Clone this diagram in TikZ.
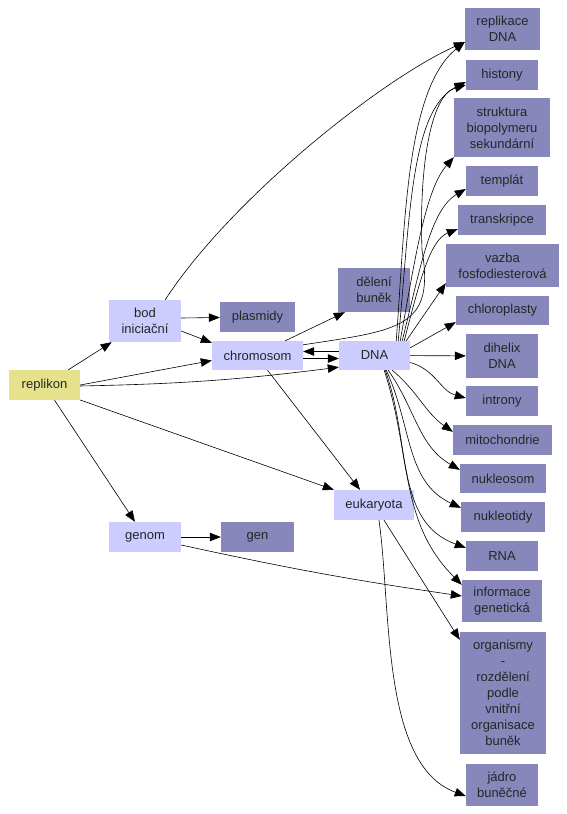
\documentclass[tikz,border=0pt]{standalone}
\usepackage{fontspec}
\setmainfont{Liberation Sans}
\usetikzlibrary{arrows.meta}
\definecolor{litecol}{RGB}{204,204,255}
\definecolor{darkcol}{RGB}{135,135,187}
\definecolor{yelcol}{RGB}{230,226,140}

\begin{document}
\begin{tikzpicture}[x=1pt,y=-1pt,
        box/.style={rectangle,inner sep=0pt,align=center,text=black!85,font=\fontsize{13}{16}\selectfont},
        lite/.style={box,fill=litecol},
        dark/.style={box,fill=darkcol},
        edge/.style={-{Triangle[length=11pt,width=8.5pt]},line width=0.6pt}]
        \useasboundingbox (0,0) rectangle (567,814);
        \node[box,fill=yelcol,minimum width=71,minimum height=30] (replikon) at (44.5,385) {replikon};
        \node[lite,minimum width=72,minimum height=42] (bod) at (145,321) {bod\\iniciační};
        \node[dark,minimum width=75,minimum height=30] (plasmidy) at (257.5,317) {plasmidy};
        \node[lite,minimum width=91,minimum height=29] (chromosom) at (257.5,355.5) {chromosom};
        \node[lite,minimum width=71,minimum height=29] (dna) at (374.5,355.5) {DNA};
        \node[dark,minimum width=72,minimum height=44] (deleni) at (374,290) {dělení\\buněk};
        \node[lite,minimum width=80,minimum height=30] (eukaryota) at (374,505) {eukaryota};
        \node[lite,minimum width=72,minimum height=30] (genom) at (145,537) {genom};
        \node[dark,minimum width=73,minimum height=30] (gen) at (257.5,537) {gen};
        \node[dark,minimum width=75,minimum height=42] (replikace) at (502.5,29) {replikace\\DNA};
        \node[dark,minimum width=72,minimum height=30] (histony) at (502,75) {histony};
        \node[dark,minimum width=96,minimum height=59] (struktura) at (502,127.5) {struktura\\biopolymeru\\sekundární};
        \node[dark,minimum width=72,minimum height=30] (templat) at (502,181) {templát};
        \node[dark,minimum width=88,minimum height=30] (transkripce) at (502,220) {transkripce};
        \node[dark,minimum width=113,minimum height=43] (vazba) at (502.5,265.5) {vazba\\fosfodiesterová};
        \node[dark,minimum width=93,minimum height=29] (chloroplasty) at (502.5,310.5) {chloroplasty};
        \node[dark,minimum width=72,minimum height=44] (dihelix) at (502,356) {dihelix\\DNA};
        \node[dark,minimum width=72,minimum height=30] (introny) at (502,401) {introny};
        \node[dark,minimum width=99,minimum height=30] (mitochondrie) at (502.5,440) {mitochondrie};
        \node[dark,minimum width=86,minimum height=29] (nukleosom) at (503,478.5) {nukleosom};
        \node[dark,minimum width=84,minimum height=30] (nukleotidy) at (503,517) {nukleotidy};
        \node[dark,minimum width=72,minimum height=30] (rna) at (502,556) {RNA};
        \node[dark,minimum width=80,minimum height=42] (informace) at (502,601) {informace\\genetická};
        \node[dark,minimum width=86,minimum height=122] (organismy) at (503,693) {organismy\\-\\rozdělení\\podle\\vnitřní\\organisace\\buněk};
        \node[dark,minimum width=72,minimum height=42] (jadro) at (502,785) {jádro\\buněčné};

        \draw[edge] (replikon) -- (bod);
        \draw[edge] (replikon.east) -- ([yshift=-5]chromosom.west);
        \draw[edge] ([yshift=-1]replikon.east) to[bend right=3] ([yshift=3]dna.south west);
        \draw[edge] ([yshift=-15]replikon.east) -- (eukaryota.north west);
        \draw[edge] (replikon) -- (genom);
        \draw[edge] ([yshift=3]bod.east) -- (plasmidy);
        \draw[edge] ([yshift=-10]bod.east) -- ([yshift=-2]chromosom.north west);
        \draw[edge] (bod.north east) ++(-16,0) .. controls (230,200) and (380,80) .. ([yshift=-13]replikace.west);
        \draw[edge] (genom) -- (gen);
        \draw[edge] ([yshift=-8]genom.east) to[bend right=2] ([yshift=5]informace.west);
        \draw[edge] ([xshift=-18]chromosom.north east) -- ([xshift=7]deleni.south west);
        \draw[edge] ([yshift=-3]chromosom.east) -- ([yshift=-3]dna.west);
        \draw[edge] ([yshift=4]dna.west) -- ([yshift=4]chromosom.east);
        \draw[edge] ([xshift=10]chromosom.south) -- ([xshift=-14]eukaryota.north);
        \draw[edge] ([yshift=-4]chromosom.north east) .. controls (400,330) and (435,328) .. (422,250) .. controls (419,170) and (430,95) .. ([yshift=-10]histony.west);
        \draw[edge] ([xshift=-14]dna.north east) .. controls (405,230) and (405,90) .. ([yshift=-13]replikace.west);
        \draw[edge] ([xshift=-12]dna.north east) .. controls (410,220) and (410,110) .. ([yshift=-7]histony.west);
        \draw[edge] ([xshift=-10]dna.north east) .. controls (415,260) and (425,190) .. (struktura.south west);
        \draw[edge] ([xshift=-8]dna.north east) .. controls (420,270) and (430,210) .. ([yshift=-8]templat.west);
        \draw[edge] ([xshift=-6]dna.north east) .. controls (420,280) and (430,240) .. ([yshift=-9]transkripce.west);
        \draw[edge] ([xshift=-4]dna.north east) -- ([yshift=4]vazba.south west);
        \draw[edge] ([yshift=-7]dna.north east) -- ([yshift=3]chloroplasty.south west);
        \draw[edge] (dna) -- (dihelix);
        \draw[edge] ([yshift=-7]dna.east) to[out=-15,in=165] ([yshift=3]introny.west);
        \draw[edge] ([xshift=-18]dna.south east) to[out=-40,in=145] ([yshift=-7]mitochondrie.north west);
        \draw[edge] ([xshift=-22]dna.south east) to[out=-55,in=150] ([yshift=-6]nukleosom.north west);
        \draw[edge] ([xshift=-24]dna.south east) to[out=-65,in=155] ([yshift=-6]nukleotidy.north west);
        \draw[edge] ([xshift=-25]dna.south east) to[out=-70,in=160] ([yshift=-7]rna.north west);
        \draw[edge] ([xshift=-26]dna.south east) to[out=-72,in=135] ([yshift=-5]informace.north west);
        \draw[edge] ([xshift=10]eukaryota.south) -- ([yshift=-8]organismy.north west);
        \draw[edge] ([xshift=5]eukaryota.south) to[out=-82,in=160,looseness=0.8] ([yshift=-11]jadro.west);
    \end{tikzpicture}
\end{document}
